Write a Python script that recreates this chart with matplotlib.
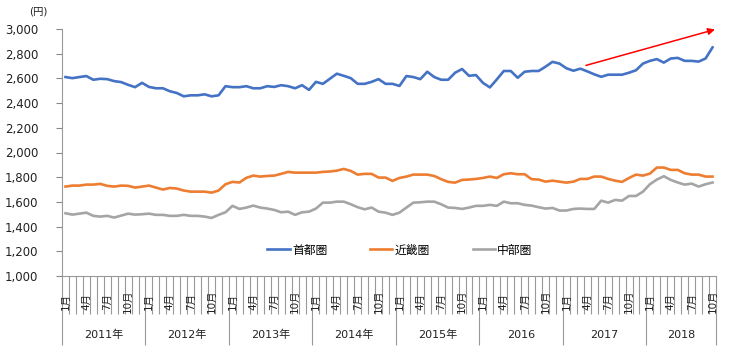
import numpy as np
import matplotlib
matplotlib.use("Agg")
import matplotlib.pyplot as plt
from matplotlib.ticker import FixedLocator, FuncFormatter

plt.rcParams['font.family'] = ['DejaVu Sans', 'Noto Sans CJK JP']

# ---- data ----
years = [2011, 2012, 2013, 2014, 2015, 2016, 2017, 2018]
year_labels = ['2011年', '2012年', '2013年', '2014年', '2015年', '2016', '2017', '2018']
n_months = 94  # Jan 2011 .. Oct 2018
month_label_months = [1, 4, 7, 10]

series_names = ['首都圏', '近畿圏', '中部圏']

shutoken = [2611, 2602, 2611, 2619, 2589, 2597, 2594, 2578, 2570, 2548, 2529, 2564,
            2531, 2520, 2520, 2496, 2482, 2455, 2463, 2463, 2471, 2455, 2463, 2537,
            2529, 2529, 2537, 2520, 2520, 2537, 2531, 2545, 2537, 2520, 2545, 2507,
            2572, 2556, 2597, 2638, 2621, 2602, 2556, 2556, 2572, 2594, 2556, 2556,
            2539, 2619, 2611, 2594, 2654, 2611, 2589, 2589, 2646, 2676, 2621, 2627,
            2564, 2527, 2592, 2660, 2660, 2605, 2654, 2660, 2660, 2695, 2734, 2720,
            2682, 2662, 2679, 2657, 2633, 2613, 2630, 2630, 2630, 2646, 2666, 2720,
            2742, 2756, 2728, 2761, 2766, 2742, 2742, 2736, 2761, 2851]

kinki = [1724, 1732, 1732, 1740, 1740, 1746, 1730, 1724, 1732, 1730, 1716, 1724,
         1732, 1716, 1700, 1713, 1708, 1692, 1683, 1683, 1683, 1675, 1692, 1743,
         1762, 1757, 1795, 1813, 1805, 1810, 1813, 1827, 1843, 1837, 1837, 1837,
         1837, 1843, 1846, 1853, 1867, 1851, 1821, 1827, 1827, 1797, 1797, 1770,
         1794, 1805, 1821, 1821, 1821, 1810, 1784, 1762, 1756, 1778, 1781, 1786,
         1794, 1805, 1794, 1824, 1832, 1824, 1824, 1784, 1781, 1764, 1772, 1764,
         1756, 1764, 1786, 1786, 1805, 1805, 1786, 1772, 1762, 1794, 1821, 1813,
         1829, 1878, 1878, 1859, 1859, 1832, 1821, 1821, 1805, 1805]

chubu = [1508, 1497, 1505, 1513, 1487, 1481, 1487, 1473, 1489, 1505, 1497, 1500,
         1505, 1495, 1495, 1487, 1487, 1495, 1487, 1487, 1481, 1470, 1495, 1516,
         1568, 1543, 1554, 1570, 1554, 1546, 1535, 1516, 1521, 1495, 1516, 1521,
         1546, 1594, 1594, 1602, 1602, 1581, 1557, 1540, 1554, 1521, 1513, 1495,
         1513, 1554, 1594, 1597, 1602, 1602, 1581, 1554, 1551, 1543, 1554, 1568,
         1568, 1576, 1568, 1602, 1589, 1589, 1576, 1570, 1557, 1546, 1551, 1530,
         1530, 1543, 1546, 1543, 1543, 1610, 1594, 1616, 1610, 1648, 1648, 1683,
         1743, 1781, 1808, 1778, 1757, 1740, 1748, 1724, 1743, 1757]

colors = ['#4472C4', '#ED7D31', '#A5A5A5']
arrow_start = (74.8, 2705)
arrow_end = (93.35, 2996)

# ---- figure ----
W, H = 730, 353
fig = plt.figure(figsize=(W / 100, H / 100), dpi=100)
ax_left, ax_right, ax_top, ax_bottom = 62, 716, 29, 276
ax = fig.add_axes([ax_left / W, 1 - ax_bottom / H, (ax_right - ax_left) / W, (ax_bottom - ax_top) / H])

x = np.arange(n_months)
for vals, name, c in zip([shutoken, kinki, chubu], series_names, colors):
    ax.plot(x, vals, color=c, lw=1.9, label=name, solid_joinstyle='round')

ax.set_xlim(-0.5, n_months - 0.5)
ax.set_ylim(1000, 3000)
ax.set_yticks(np.arange(1000, 3001, 200))
ax.yaxis.set_major_formatter(FuncFormatter(lambda v, p: f'{int(v):,}'))
ax.tick_params(axis='y', length=4, width=0.8, color='#888888', pad=13, labelsize=8.5, labelcolor='#222222')

spine_c = '#999999'
for s in ['top', 'right']:
    ax.spines[s].set_visible(False)
for s in ['left', 'bottom']:
    ax.spines[s].set_color(spine_c)
    ax.spines[s].set_linewidth(0.8)

# x ticks: month boundaries (minor) and year boundaries (major)
year_bounds = [-0.5 + 12 * i for i in range(len(years))] + [n_months - 0.5]
month_bounds = [b for b in np.arange(-0.5, n_months, 1.0) if b not in year_bounds]
ax.xaxis.set_major_locator(FixedLocator(year_bounds))
ax.xaxis.set_minor_locator(FixedLocator(month_bounds))
ax.tick_params(axis='x', which='major', length=(345 - 276) * 0.72, width=0.8, color=spine_c, labelbottom=False)
ax.tick_params(axis='x', which='minor', length=(314 - 276) * 0.72, width=0.8, color=spine_c)

trans = ax.get_xaxis_transform()
axh = ax_bottom - ax_top
for i in range(n_months):
    m = i % 12 + 1
    if m in month_label_months:
        ax.text(i, -(301 - ax_bottom) / axh, f'{m}月', rotation=90, ha='center', va='center',
                fontsize=7.5, color='#222222', transform=trans)
for k, lab in enumerate(year_labels):
    start = 12 * k
    end = min(12 * k + 11, n_months - 1)
    ax.text((start + end) / 2, -(335 - ax_bottom) / axh, lab, ha='center', va='center',
            fontsize=8, color='#222222', transform=trans)

fig.text(38 / W, 1 - 12 / H, '(円)', ha='center', va='center', fontsize=7.5, color='#222222')

ax.annotate('', xy=arrow_end, xytext=arrow_start,
            arrowprops=dict(arrowstyle='-|>', color='#FF0000', lw=1.1, mutation_scale=10,
                            shrinkA=0, shrinkB=0),
            annotation_clip=False)

leg = fig.legend(loc='center', bbox_to_anchor=(400 / W, 1 - 250 / H), ncol=3, frameon=False,
                 fontsize=8.5, handlelength=1.9, handletextpad=0.2, columnspacing=3.6)

fig.savefig('out.png', dpi=100)
